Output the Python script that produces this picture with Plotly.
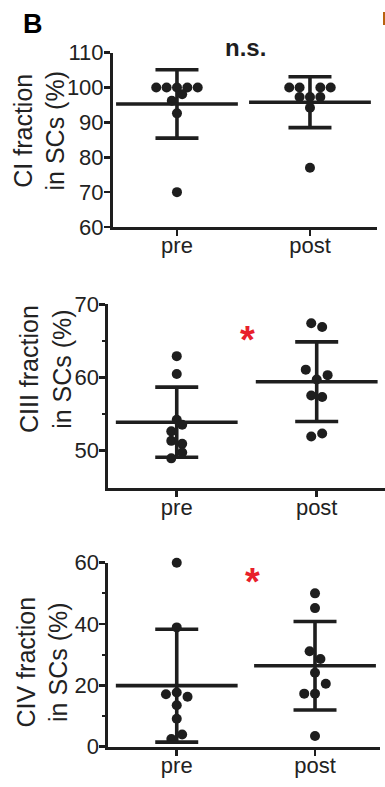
import plotly.graph_objects as go

W, H = 385, 787
FONT = "Liberation Sans, Arial, sans-serif"
INK = "#1e1e1e"
RED = "#e8202a"

categories = ["pre", "post"]
cat_x = [0, 1]

# Panel 1: CI fraction in SCs (%)
ci_pre = [100, 100, 100, 100, 100, 98.1, 96.2, 92.6, 70.0]
ci_pre_off = [-2, -1, 0, 1, 2, 0.5, -0.5, 0, 0]
ci_post = [100, 100, 100, 100, 97.3, 97.3, 97.3, 94.2, 77.0]
ci_post_off = [-2, -1, 1, 2, -1, 0, 1, 0, 0]
ci_mean = [95.3, 95.8]
ci_sd = [9.8, 7.3]

# Panel 2: CIII fraction in SCs (%)
ciii_pre = [62.9, 60.45, 54.2, 53.5, 52.6, 51.3, 50.9, 49.7, 48.9]
ciii_pre_off = [0, 0, 0, 0.5, -0.5, -0.5, 0.5, 0.5, -0.5]
ciii_post = [67.4, 66.9, 61.05, 60.3, 59.7, 57.5, 57.3, 51.9, 52.3]
ciii_post_off = [-0.5, 0.5, -1, 1, 0, -0.5, 0.5, -0.5, 0.5]
ciii_mean = [53.85, 59.4]
ciii_sd = [4.8, 5.45]

# Panel 3: CIV fraction in SCs (%)
civ_pre = [60.0, 38.9, 17.1, 17.7, 16.3, 13.5, 9.1, 4.0, 2.5]
civ_pre_off = [0, 0, -1, 0, 1, 0, 0, 0.5, -0.5]
civ_post = [50.0, 45.2, 31.1, 28.6, 24.1, 20.5, 17.3, 17.3, 3.5]
civ_post_off = [0, 0, -0.5, 0.5, 0, 1, -1, 0, 0]
civ_mean = [19.9, 26.4]
civ_sd = [18.4, 14.45]

y_titles = ["CI fraction<br>in SCs (%)", "CIII fraction<br>in SCs (%)", "CIV fraction<br>in SCs (%)"]
y_ranges = [[60, 110], [44.8, 70], [0, 60]]
y_tickvals = [[60, 70, 80, 90, 100, 110], [50, 60, 70], [0, 20, 40, 60]]
y_minor = [[], [55, 65], [10, 30, 50]]
x_ranges = [[-0.481, 1.504], [-0.489, 1.488], [-0.495, 1.47]]

# layout geometry in pixels (left, right, top, bottom)
boxes = [(113, 377, 52.7, 227), (108.3, 385, 304.3, 488.3), (108.3, 380, 562.7, 746.7)]
title_pos = [(39.5, 131), (45, 369), (41.5, 662)]
stars = [("n.s.", 245, 47, INK, 24), ("*", 247, 340, RED, 38), ("*", 252, 582, RED, 38)]

STEP = 0.078

panels = [
    (ci_pre, ci_pre_off, ci_post, ci_post_off, ci_mean, ci_sd),
    (ciii_pre, ciii_pre_off, ciii_post, ciii_post_off, ciii_mean, ciii_sd),
    (civ_pre, civ_pre_off, civ_post, civ_post_off, civ_mean, civ_sd),
]


def fx(px):
    return px / W


def fy(py):
    return 1 - py / H


fig = go.Figure()
layout = {}
annotations = []

for i, (pre, pre_off, post, post_off, mean, sd) in enumerate(panels):
    n = "" if i == 0 else str(i + 1)
    xa, ya = "x" + n, "y" + n
    for c, vals, offs in ((cat_x[0], pre, pre_off), (cat_x[1], post, post_off)):
        fig.add_trace(go.Scatter(
            x=[c + o * STEP for o in offs], y=vals, mode="markers",
            marker=dict(size=10, color=INK), xaxis=xa, yaxis=ya,
            cliponaxis=False, showlegend=False, hoverinfo="skip"))
    fig.add_trace(go.Scatter(
        x=cat_x, y=mean, mode="markers", xaxis=xa, yaxis=ya,
        marker=dict(symbol="line-ew-open", size=87, color=INK,
                    line=dict(width=3.6, color=INK)),
        error_y=dict(type="data", array=sd, visible=True, width=21.5,
                     thickness=3.6, color=INK),
        cliponaxis=False, showlegend=False, hoverinfo="skip"))

    l, r, t, b = boxes[i]
    layout["xaxis" + n] = dict(
        domain=[fx(l), fx(r)], anchor=ya, range=x_ranges[i], automargin=False,
        tickvals=cat_x, ticktext=categories, ticks="outside", ticklen=6,
        tickwidth=2.5, tickcolor=INK, showline=True, linewidth=3,
        linecolor=INK, showgrid=False, zeroline=False, ticklabelstandoff=-9,
        fixedrange=True,
        tickfont=dict(family=FONT, size=22, color="#222"))
    layout["yaxis" + n] = dict(
        domain=[fy(b), fy(t)], anchor=xa, range=y_ranges[i], automargin=False,
        tickvals=y_tickvals[i], ticks="outside", ticklen=6, tickwidth=2.5,
        tickcolor=INK, showline=True, linewidth=3, linecolor=INK,
        showgrid=False, zeroline=False, ticklabelstandoff=-4, fixedrange=True,
        minor=dict(tickvals=y_minor[i], ticks="outside", ticklen=3,
                   tickwidth=2, tickcolor=INK, showgrid=False),
        tickfont=dict(family=FONT, size=22, color="#222"))

    tx, ty = title_pos[i]
    annotations.append(dict(
        text=y_titles[i], x=fx(tx), y=fy(ty), xref="paper", yref="paper",
        xanchor="center", yanchor="middle", textangle=-90, showarrow=False,
        font=dict(family=FONT, size=25, color="#222")))

for txt, sx, sy, col, size in stars:
    annotations.append(dict(
        text="<b>%s</b>" % txt, x=fx(sx), y=fy(sy), xref="paper", yref="paper",
        xanchor="center", yanchor="middle", showarrow=False,
        font=dict(family=FONT, size=size, color=col)))

annotations.append(dict(
    text="<b>B</b>", x=fx(33), y=fy(24), xref="paper", yref="paper",
    xanchor="center", yanchor="middle", showarrow=False,
    font=dict(family=FONT, size=27, color="#000")))

# sliver of the neighbouring panel's label at the right edge
shapes = [dict(type="line", xref="paper", yref="paper",
               x0=fx(384), x1=fx(384), y0=fy(12), y1=fy(25),
               line=dict(color="#b8620f", width=2))]

fig.update_layout(
    template="none",
    width=W, height=H, margin=dict(l=0, r=0, t=0, b=0, pad=0, autoexpand=False),
    paper_bgcolor="white", plot_bgcolor="white", hovermode=False,
    annotations=annotations, shapes=shapes, **layout)

fig.write_html(
    "out.html",
    config={"displayModeBar": False, "staticPlot": True},
    post_script="document.body.style.margin='0px';"
                "document.documentElement.style.overflow='hidden';")
